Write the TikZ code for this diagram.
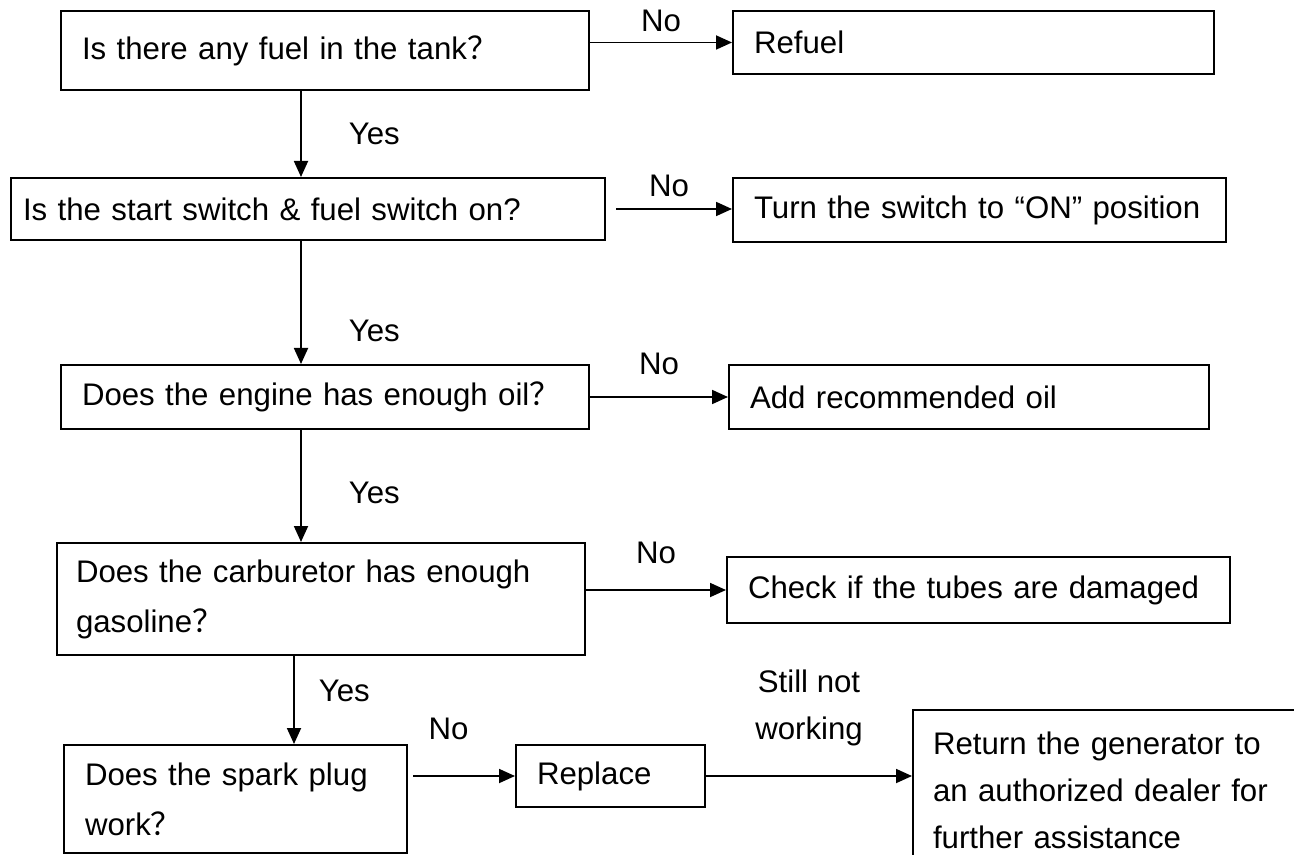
\documentclass[tikz,border=0pt]{standalone}
\usepackage{fontspec}
\setmainfont{Liberation Sans}
\newfontfamily\cjkfont{Noto Sans CJK SC}
\newcommand{\fq}{{\cjkfont ？}}
\usetikzlibrary{arrows.meta}

\begin{document}
\begin{tikzpicture}[
  x=0.5pt,y=-0.5pt,
  font=\fontsize{15.6}{23.5}\selectfont,
  box/.style={draw,line width=1pt,anchor=north west,inner xsep=10.5pt,inner ysep=0pt,align=left},
  tall/.style={font=\fontsize{15.6}{25}\selectfont},
  lbl/.style={inner sep=0pt,align=center},
  fl/.style={-{Triangle[length=8pt,width=7pt]},line width=0.9pt}]
\useasboundingbox (0,0) rectangle (1294,855);
\clip (0,0) rectangle (1294,855);
% questions
\node[box,minimum width=264pt,minimum height=39.5pt,text width=243pt] (q1) at (60,10) {Is there any fuel in the tank\fq};
\node[box,minimum width=297pt,minimum height=31pt,inner xsep=6pt,text width=285pt] (q2) at (10,177) {Is the start switch \& fuel switch on?};
\node[box,minimum width=264pt,minimum height=32pt,text width=243pt] (q3) at (60,364) {Does the engine has enough oil\fq};
\node[box,tall,minimum width=264pt,minimum height=56pt,inner xsep=9.5pt,text width=245pt] (q4) at (56,542) {Does the carburetor has enough\\gasoline\fq};
\node[box,tall,minimum width=171.5pt,minimum height=54pt,text width=150.5pt] (q5) at (63,744) {Does the spark plug\\work\fq};
% actions
\node[box,minimum width=240.5pt,minimum height=31.5pt,text width=219.5pt] (a1) at (732,10) {Refuel};
\node[box,minimum width=246.5pt,minimum height=32pt,text width=225.5pt] (a2) at (732,177) {Turn the switch to “ON” position};
\node[box,minimum width=240pt,minimum height=32pt,text width=219pt] (a3) at (728,364) {Add recommended oil};
\node[box,minimum width=251.5pt,minimum height=33pt,text width=230.5pt] (a4) at (726,556) {Check if the tubes are damaged};
\node[box,minimum width=94.5pt,minimum height=31pt,text width=73.5pt] (a5) at (515,744) {Replace};
\node[box,inner xsep=10pt,minimum height=80pt,text width=230pt] (a6) at (912,709) {Return the generator to\\an authorized dealer for\\further assistance};
% yes branch
\coordinate (sp) at (301,0);
\coordinate (sp2) at (294,0);
\draw[fl] (q1.south -| sp) -- node[lbl,right=23.5pt] {Yes} (q2.north -| sp);
\draw[fl] (q2.south -| sp) -- node[lbl,right=23.5pt,pos=0.73] {Yes} (q3.north -| sp);
\draw[fl] (q3.south -| sp) -- node[lbl,right=23.5pt,pos=0.56] {Yes} (q4.north -| sp);
\draw[fl] (q4.south -| sp2) -- node[lbl,right=12pt,pos=0.4] {Yes} (q5.north -| sp2);
% no branch
\draw[fl] (q1.east |- a1.west) -- node[lbl,above=5pt] {No} (a1.west);
\draw[fl,shorten <=5pt] (q2.east) -- node[lbl,above=5.5pt] {No} (q2.east -| a2.west);
\draw[fl] (q3.east) -- node[lbl,above=10.5pt] {No} (q3.east -| a3.west);
\draw[fl] (q4.east |- a4.west) -- node[lbl,above=12.5pt] {No} (a4.west);
\draw[fl,shorten <=2.5pt] (q5.east |- a5.west) -- node[lbl,above=17.5pt,xshift=-6.5pt] {No} (a5.west);
\draw[fl] (a5.east) -- node[lbl,above=14.5pt] {Still not\\working} (a5.east -| a6.west);
\end{tikzpicture}
\end{document}
